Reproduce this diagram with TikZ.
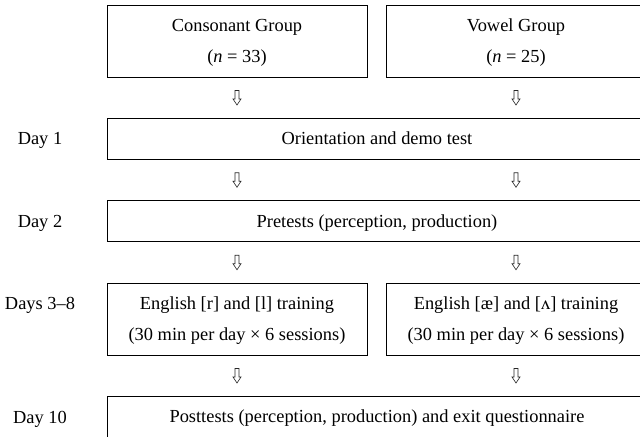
\documentclass[tikz,border=0pt]{standalone}
\usepackage{fontspec}
\setmainfont{Liberation Serif}
\usetikzlibrary{calc}
\tikzset{
  box/.style={draw, line width=0.9bp, inner sep=0pt},
  wide/.style={box, minimum width=540bp, minimum height=41bp},
  half/.style={box, minimum width=260bp, minimum height=72bp},
  txt/.style={anchor=base, inner sep=0pt, font=\fontsize{18.4bp}{22bp}\selectfont},
  darr/.pic={\draw[line width=0.6bp, black!85, line join=miter]
     (-2,-7) -- (-2,1.5) -- (-4,1.5) -- (0,7.5) -- (4,1.5) -- (2,1.5) -- (2,-7) -- cycle;}
}
\begin{document}
\begin{tikzpicture}[x=1bp, y=-1bp]
\path[use as bounding box] (0,0) rectangle (640,437);
\clip (0,0) rectangle (640,437);
% boxes
\node[half] (cons) at (237,41) {};
\node[half] (vow) at (516,41) {};
\node[wide] (d1) at (377,138.5) {};
\node[wide] (d2) at (377,221) {};
\node[half] (trL) at (237,319) {};
\node[half] (trR) at (516,319) {};
\node[wide, minimum height=42bp] (post) at (377,417) {};
% box texts
\node[txt] (consA) at ($(cons.north)+(0,27)$) {Consonant Group};
\node[txt] (consB) at ($(cons.north)+(0,58)$) {(\textit{n} = 33)};
\node[txt] (vowA) at ($(vow.north)+(0,27)$) {Vowel Group};
\node[txt] (vowB) at ($(vow.north)+(0,58)$) {(\textit{n} = 25)};
\node[txt] (d1t) at ($(d1.north)+(0,27)$) {Orientation and demo test};
\node[txt] (d2t) at ($(d2.north)+(0,27)$) {Pretests (perception, production)};
\node[txt] (trLA) at ($(trL.north)+(0,27)$) {English [r] and [l] training};
\node[txt] (trLB) at ($(trL.north)+(0,58)$) {(30 min per day × 6 sessions)};
\node[txt] (trRA) at ($(trR.north)+(0,27)$) {English [æ] and [ʌ] training};
\node[txt] (trRB) at ($(trR.north)+(0,58)$) {(30 min per day × 6 sessions)};
\node[txt] (postt) at ($(post.north)+(0,27)$) {Posttests (perception, production) and exit questionnaire};
% day labels
\node[txt] (l1) at (40,145) {Day 1};
\node[txt] (l2) at (40,228) {Day 2};
\node[txt] (l3) at (40,310) {Days 3–8};
\node[txt] (l4) at (40,423) {Day 10};
% arrows
\pic at ($(cons.south)!0.5!(cons.south |- d1.north)$) {darr};
\pic at ($(vow.south)!0.5!(vow.south |- d1.north)$) {darr};
\pic at ($(cons.south |- d1.south)!0.5!(cons.south |- d2.north)$) {darr};
\pic at ($(vow.south |- d1.south)!0.5!(vow.south |- d2.north)$) {darr};
\pic at ($(trL.north |- d2.south)!0.5!(trL.north)$) {darr};
\pic at ($(trR.north |- d2.south)!0.5!(trR.north)$) {darr};
\pic at ($(trL.south)!0.5!(trL.south |- post.north)$) {darr};
\pic at ($(trR.south)!0.5!(trR.south |- post.north)$) {darr};
\end{tikzpicture}
\end{document}
